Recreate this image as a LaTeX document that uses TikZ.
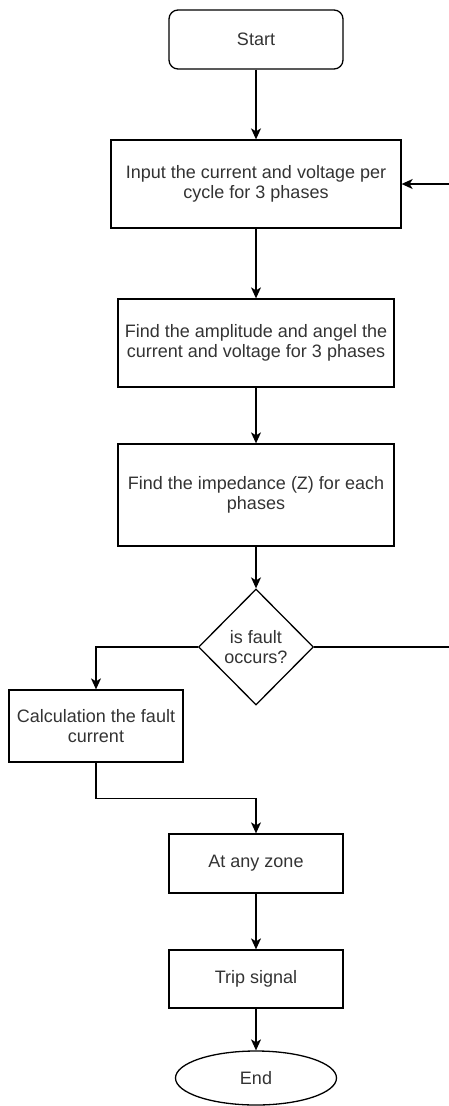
\documentclass[tikz,border=0pt]{standalone}
\usepackage{fontspec}
\setmainfont{Liberation Sans}
\usetikzlibrary{shapes.geometric,arrows.meta,calc}
\definecolor{txt}{HTML}{333333}
\tikzset{
  x=1pt,y=1pt,
  base/.style={draw=black,line width=1.3pt,text=txt,align=center,inner sep=0pt,
    font=\fontsize{18}{20}\selectfont},
  proc/.style={base,rectangle},
  term/.style={base,rectangle,rounded corners=9pt},
  endterm/.style={base,ellipse},
  decide/.style={base,diamond,shape aspect=1},
  conn/.style={line width=1.3pt,-{Stealth[length=11pt,width=10pt,inset=3pt]}},
  plain/.style={line width=1.3pt}
}
\begin{document}
\begin{tikzpicture}
\useasboundingbox (0,0) rectangle (449,-1106);
\node[term,minimum width=174,minimum height=59] (start) at (256,-39.5) {Start};
\node[proc,minimum width=290,minimum height=88] (input) at (256,-184) {Input the current and voltage per\\cycle for 3 phases};
\node[proc,minimum width=276,minimum height=88] (amp) at (256,-343) {Find the amplitude and angel the\\current and voltage for 3 phases};
\node[proc,minimum width=276,minimum height=102] (imp) at (256,-495) {Find the impedance (Z) for each\\phases};
\node[decide,minimum width=115,minimum height=116] (dec) at (256,-647) {is fault\\occurs?};
\node[proc,minimum width=174,minimum height=72] (calc) at (96,-726) {Calculation the fault\\current};
\node[proc,minimum width=174,minimum height=59] (zone) at (256,-863.5) {At any zone};
\node[proc,minimum width=174,minimum height=58] (trip) at (256,-979) {Trip signal};
\node[endterm,minimum width=161,minimum height=54] (end) at (256,-1078) {End};
\coordinate (rin) at (449,-184);
\coordinate (rdec) at (449,-647);
\draw[conn] (start) -- (input);
\draw[conn] (input) -- (amp);
\draw[conn] (amp) -- (imp);
\draw[conn] (imp) -- (dec);
\draw[conn] (rin) -- (input.east);
\draw[plain] (dec.east) -- (rdec);
\draw[conn] (dec.west) -| (calc.north);
\draw[conn] (calc.south) -- ++(0,-36) -| (zone.north);
\draw[conn] (zone) -- (trip);
\draw[conn] (trip) -- (end);
\end{tikzpicture}
\end{document}
